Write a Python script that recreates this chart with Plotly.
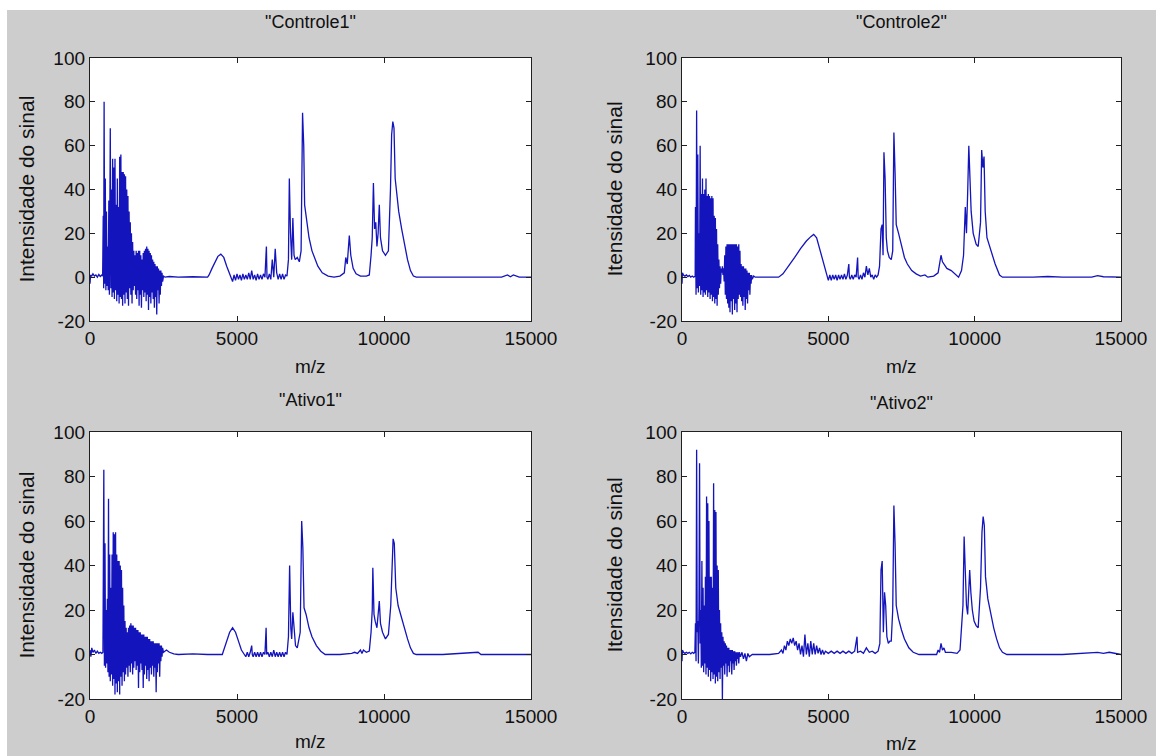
import plotly.graph_objects as go

# ---------------- data (m/z, intensity) ----------------
controle1 = [
    (0, -3), (20, 1), (60, 0.5), (100, 1.5), (150, 0.5), (200, 1), (250, 0), (300, 1.2), (350, 0.3), (400, 1), (430, 0.5),
    (450, 28), (465, -5), (480, 80), (500, -3), (520, 45), (540, -6), (560, 30), (580, -4), (600, 14), (620, -6),
    (640, 35), (660, -8), (690, 68), (710, -5), (730, 40), (750, -9), (770, 54), (790, -7), (810, 50), (830, -10),
    (850, 54), (870, -6), (890, 33), (910, -11), (930, 45), (950, -8), (970, 32), (990, -12), (1010, 55), (1030, -9),
    (1050, 56), (1070, -10), (1090, 48), (1110, -13), (1130, 48), (1150, -8), (1170, 47), (1190, -12), (1210, 46),
    (1230, -7), (1250, 40), (1270, -10), (1290, 37), (1310, -13), (1330, 30), (1350, -5), (1370, 25), (1390, -8),
    (1410, 20), (1430, -12), (1450, 16), (1470, -6), (1490, 12), (1510, -4), (1530, 10), (1550, -8), (1570, 12),
    (1590, -10), (1610, 11), (1630, -6), (1650, 12), (1670, -13), (1690, 12), (1710, -8), (1730, 10), (1750, -14),
    (1770, 8), (1790, -6), (1810, 11), (1830, -9), (1850, 12), (1870, -7), (1890, 13), (1910, -11), (1930, 14),
    (1950, -8), (1970, 13), (1990, -15), (2010, 12), (2030, -9), (2050, 11), (2070, -12), (2090, 10), (2110, -7),
    (2130, 8), (2150, -10), (2170, 7), (2190, -14), (2210, 6), (2230, -9), (2250, 5), (2270, -17), (2290, 5),
    (2310, -6), (2330, 4), (2350, -12), (2370, 3), (2390, -8), (2410, 3), (2430, -4), (2450, 2), (2470, -2), (2500, 0.5),
    (2550, 0), (2700, 0.3), (3000, 0), (3500, 0.2), (4000, 0), (4050, 1), (4150, 4), (4250, 7), (4350, 9.5),
    (4450, 10.5), (4550, 9), (4650, 5), (4750, 1.5), (4800, -0.5), (4850, -2),
    (4900, 1), (4950, -1.5), (5000, 1.5), (5050, -1), (5100, 1), (5150, -1.5), (5200, 1.5), (5250, -1), (5300, 1),
    (5350, -1), (5400, 2), (5450, -1), (5500, 3), (5550, -1), (5600, 1), (5650, -1.5), (5700, 1.5), (5750, -1),
    (5800, 1), (5850, -1), (5900, 1.5), (5950, 0), (6000, 14), (6020, 0), (6050, -1), (6100, 1.5), (6150, -1),
    (6200, 8), (6250, 0), (6300, 13), (6350, 2), (6400, -1), (6450, 1.5), (6500, -1), (6550, 1.5), (6600, -1),
    (6650, 1), (6700, 0.5),
    (6750, 8), (6780, 45), (6820, 20), (6860, 8), (6900, 27), (6940, 10), (6980, 8), (7050, 9), (7120, 7),
    (7180, 12), (7230, 75), (7270, 60), (7300, 33), (7350, 28), (7450, 18), (7550, 12), (7650, 8), (7750, 5),
    (7900, 2), (8100, 0.5), (8300, 0), (8500, 0.5), (8650, 2), (8700, 9), (8750, 6), (8820, 19), (8870, 10),
    (8950, 4), (9050, 1.5), (9200, 0.5), (9400, 0.5), (9500, 1), (9560, 10), (9600, 18), (9640, 43), (9680, 22),
    (9720, 25), (9760, 14), (9800, 20), (9840, 33), (9880, 18), (9950, 12), (10050, 10), (10150, 12), (10220, 40),
    (10260, 65), (10300, 71), (10340, 68), (10380, 45), (10430, 38), (10500, 30), (10600, 22), (10700, 15),
    (10800, 8), (10900, 3), (11000, 0.5), (11100, 0), (12000, 0), (13000, 0.2), (14000, 0), (14200, 1),
    (14300, 0.2), (14400, 1), (14600, 0), (15000, 0),
]

controle2 = [
    (0, -3), (15, 2), (50, 1), (100, 0.5), (150, 1), (200, 0.3), (250, 0.8), (300, 0), (350, 0.5), (400, 0), (450, 0.5),
    (460, 32), (480, -8), (500, 76), (520, -5), (540, 56), (560, -7), (580, 20), (600, -4), (620, 60), (640, -8),
    (660, 38), (680, -6), (700, 45), (720, -9), (740, 38), (760, -7), (780, 40), (800, -8), (820, 45), (840, -6),
    (860, 37), (880, -9), (900, 38), (920, -7), (940, 37), (960, -10), (980, 36), (1000, -8), (1020, 37), (1040, -11),
    (1060, 36), (1080, -9), (1100, 28), (1120, -12), (1140, 27), (1160, -10), (1180, 22), (1200, -13), (1220, 15),
    (1240, -8), (1260, 8), (1280, -5), (1300, 5), (1320, -3), (1340, 4), (1360, 2), (1380, 5), (1400, 1), (1420, 4),
    (1440, -2), (1460, 10), (1480, -8), (1500, 14), (1520, -10), (1540, 15), (1560, -12), (1580, 15), (1600, -14),
    (1620, 15), (1640, -16), (1660, 15), (1680, -11), (1700, 15), (1720, -17), (1740, 15), (1760, -10), (1780, 15),
    (1800, -15), (1820, 15), (1840, -12), (1860, 15), (1880, -16), (1900, 14), (1920, -10), (1940, 15), (1960, -8),
    (1980, 12), (2000, -9), (2020, 6), (2040, -11), (2060, 5), (2080, -13), (2100, 5), (2120, -9), (2140, 4),
    (2160, -15), (2180, 4), (2200, -10), (2220, 3), (2240, -12), (2260, 2), (2280, -6), (2300, 2), (2320, -8),
    (2340, 1), (2360, -3), (2380, 1), (2400, -1), (2450, 0.5),
    (2500, 0), (2800, 0), (3300, 0), (3450, 1.5), (3650, 5), (3850, 9), (4050, 13), (4250, 16.5), (4400, 18.5),
    (4500, 19.5), (4600, 18), (4700, 13), (4800, 8), (4900, 3), (4950, 0), (5000, -1.5),
    (5050, 1), (5100, -1.5), (5150, 1), (5200, -1), (5250, 1), (5300, -1.5), (5350, 1), (5400, -1), (5450, 1),
    (5500, -1), (5550, 1.5), (5600, -1), (5650, 1), (5700, 6), (5720, 0), (5750, -1), (5800, 1), (5850, -1),
    (5900, 1), (5950, 0), (6000, 9), (6020, 0), (6050, -1), (6100, 1), (6150, -1), (6200, 2), (6250, 0), (6300, 5),
    (6350, 1), (6400, 4), (6450, 0), (6500, 1), (6550, -1), (6600, 1), (6650, 0), (6700, 1),
    (6750, 5), (6800, 22), (6840, 24), (6870, 10), (6900, 57), (6940, 45), (6980, 18), (7020, 12), (7080, 9),
    (7150, 8), (7200, 12), (7240, 66), (7280, 48), (7320, 24), (7400, 20), (7500, 14), (7600, 9), (7700, 6),
    (7850, 3), (8000, 1.5), (8150, 0.5), (8300, 1), (8400, 0), (8600, 0.5), (8750, 2), (8800, 6), (8850, 10),
    (8900, 7), (8950, 6), (9050, 4), (9200, 3), (9350, 1), (9450, 0), (9550, 3), (9620, 10), (9680, 32), (9720, 20),
    (9760, 38), (9800, 60), (9840, 45), (9880, 30), (9950, 20), (10050, 15), (10120, 14), (10200, 25), (10240, 58),
    (10280, 50), (10320, 55), (10360, 30), (10420, 18), (10550, 12), (10700, 6), (10850, 1), (10950, 0),
    (12000, 0), (12500, 0.3), (13000, 0), (14000, 0), (14200, 0.7), (14400, 0.2), (15000, 0),
]

ativo1 = [
    (0, 2), (30, -1), (60, 3), (100, 1), (150, 2), (200, 0.5), (250, 1.5), (300, 0.5), (350, 1), (400, 0.5), (440, 1),
    (450, 50), (470, 83), (490, -5), (510, 50), (530, -6), (550, 20), (570, -4), (590, 25), (610, -8), (630, 70),
    (650, -10), (670, 45), (690, -12), (710, 30), (730, -9), (750, 45), (770, -14), (790, 55), (810, -11), (830, 54),
    (850, -18), (870, 55), (890, -13), (910, 45), (930, -17), (950, 42), (970, -12), (990, 42), (1010, -18),
    (1030, 40), (1050, -10), (1070, 38), (1090, -14), (1110, 30), (1130, -8), (1150, 22), (1170, -12), (1190, 15),
    (1210, -9), (1230, 12), (1250, -6), (1270, 10), (1290, -10), (1310, 12), (1330, -5), (1350, 13), (1370, -8),
    (1390, 14), (1410, -4), (1430, 13), (1450, -9), (1470, 13), (1490, -6), (1510, 12), (1530, -3), (1550, 12),
    (1570, -7), (1590, 11), (1610, -5), (1630, 11), (1650, -15), (1670, 10), (1690, -8), (1710, 10), (1730, -4),
    (1750, 9), (1770, -7), (1790, 9), (1810, -15), (1830, 9), (1850, -9), (1870, 8), (1890, -5), (1910, 8),
    (1930, -11), (1950, 8), (1970, -7), (1990, 7), (2010, -12), (2030, 7), (2050, -6), (2070, 6), (2090, -9),
    (2110, 6), (2130, -5), (2150, 6), (2170, -10), (2190, 5), (2210, -6), (2230, 5), (2250, -17), (2270, 5),
    (2290, -8), (2310, 5), (2330, -4), (2350, 5), (2370, -10), (2390, 4), (2410, -3), (2430, 4), (2450, -1),
    (2470, 3), (2500, 1),
    (2600, 2), (2700, 1), (2850, 0.3), (3000, 0), (3500, 0.3), (4000, 0), (4500, 0), (4550, 2), (4650, 6),
    (4750, 10), (4850, 12), (4950, 10), (5050, 6), (5150, 2), (5250, 0), (5300, -1),
    (5350, 1), (5400, -1), (5450, 1), (5500, 4), (5520, 0), (5550, -1), (5600, 1), (5650, -1), (5700, 1),
    (5750, -1), (5800, 1), (5850, -1), (5900, 1), (5950, 0), (5990, 12), (6010, 0), (6050, 1), (6100, -1),
    (6150, 1), (6200, -1), (6250, 2), (6300, -1), (6350, 1), (6400, -1), (6450, 1), (6500, -1), (6550, 1),
    (6600, -1), (6650, 1), (6700, 0),
    (6750, 8), (6790, 40), (6830, 12), (6860, 7), (6900, 19), (6940, 10), (6990, 4), (7050, 3), (7100, 6),
    (7150, 10), (7200, 60), (7240, 48), (7280, 21), (7350, 18), (7450, 12), (7550, 8), (7700, 4), (7850, 1.5),
    (8000, 0), (8500, 0), (8900, 0.5), (9000, 1), (9100, 0.5), (9200, 2), (9250, 0.5), (9300, 2), (9400, 1),
    (9500, 1.5), (9560, 10), (9600, 20), (9620, 39), (9660, 18), (9700, 15), (9760, 12), (9800, 18), (9840, 24),
    (9880, 14), (9950, 10), (10050, 7), (10150, 9), (10230, 22), (10280, 45), (10310, 52), (10350, 50),
    (10400, 30), (10480, 22), (10600, 16), (10700, 11), (10800, 7), (10900, 3), (11000, 0.5), (11100, 0),
    (12000, 0), (13200, 1), (13300, 0), (15000, 0),
]

ativo2 = [
    (0, -3), (15, 2), (50, 1), (100, 0.5), (150, 1), (200, 0.5), (250, 1), (300, 0.3), (350, 1), (400, 0.5), (440, 1),
    (460, 14), (480, -3), (500, 92), (520, 10), (540, 15), (560, -4), (580, 22), (600, 86), (620, 5), (640, 20),
    (660, -6), (680, 42), (700, -5), (720, 30), (740, -8), (760, 22), (780, -4), (800, 35), (820, -9), (840, 71),
    (860, -6), (880, 68), (900, -10), (920, 60), (940, -7), (960, 35), (980, -12), (1000, 35), (1020, -8),
    (1040, 30), (1060, -11), (1080, 77), (1100, -9), (1120, 65), (1140, -13), (1160, 64), (1180, -10), (1200, 40),
    (1220, -12), (1240, 38), (1260, -8), (1280, 20), (1300, -11), (1320, 14), (1340, -6), (1360, 10), (1380, -20),
    (1400, 8), (1420, -5), (1440, 6), (1460, -9), (1480, 5), (1500, -4), (1520, 4), (1540, -10), (1560, 3),
    (1580, -5), (1600, 3), (1620, -8), (1640, 2), (1660, -3), (1680, 2), (1700, -9), (1720, 2), (1740, -4),
    (1760, 1.5), (1780, -7), (1800, 1.5), (1820, -3), (1840, 1), (1860, -5), (1880, 1), (1900, -2), (1920, 1),
    (1940, -4), (1960, 1), (2000, -1), (2050, 1), (2100, -2), (2150, 0.5), (2200, -3), (2250, 0.5), (2300, -1),
    (2400, 0),
    (2500, 0), (3000, 0), (3300, 0.5), (3400, 2), (3450, 0.5), (3500, 4), (3550, 2), (3600, 6), (3650, 4),
    (3700, 7), (3750, 5), (3800, 7.5), (3850, 4), (3900, 6), (3950, 2), (4000, 5), (4050, 0), (4100, 4),
    (4150, -1), (4200, 9), (4250, 0), (4300, 5), (4350, -1), (4400, 6), (4450, 0), (4500, 5), (4550, 0),
    (4600, 4), (4650, 0.5), (4700, 3), (4750, 0), (4800, 2),
    (4850, 0), (4900, 1.5), (5000, 0.5), (5100, 1.5), (5200, 0.5), (5300, 1.5), (5400, 0.5), (5500, 1.5),
    (5600, 0.5), (5700, 1.5), (5800, 0.5), (5900, 1.5), (5980, 8), (6000, 1), (6100, 1.5), (6200, 0.5),
    (6300, 3), (6400, 1), (6500, 1.5), (6600, 0.5), (6700, 1.5),
    (6760, 5), (6800, 38), (6840, 42), (6880, 10), (6920, 28), (6960, 22), (7000, 8), (7050, 5), (7100, 6),
    (7150, 6), (7200, 20), (7240, 67), (7280, 50), (7320, 22), (7400, 16), (7500, 11), (7600, 7), (7750, 3),
    (7900, 1), (8100, 0), (8700, 0), (8750, 2), (8800, 1), (8850, 5), (8900, 2), (8950, 3), (9000, 1),
    (9200, 1), (9400, 0.5), (9500, 2), (9550, 10), (9600, 22), (9640, 53), (9680, 34), (9720, 22), (9760, 18),
    (9800, 30), (9830, 38), (9870, 28), (9920, 20), (9980, 15), (10050, 13), (10120, 12), (10200, 30),
    (10250, 55), (10290, 62), (10330, 58), (10370, 35), (10450, 25), (10550, 18), (10650, 12), (10750, 7),
    (10850, 3), (10950, 1), (11100, 0), (13000, 0), (14200, 1), (14400, 0.5), (14600, 1), (15000, 0),
]

titles = ['"Controle1"', '"Controle2"', '"Ativo1"', '"Ativo2"']
ylabels = ["Intensidade do sinal", "Itensidade do sinal", "Intensidade do sinal", "Itensidade do sinal"]
xlabel = "m/z"
x_ticks = [0, 5000, 10000, 15000]
y_ticks = [-20, 0, 20, 40, 60, 80, 100]
spectra = [controle1, controle2, ativo1, ativo2]

# ---------------- layout (pixel geometry) ----------------
W, H = 1156, 756
FONT = "Arial, Liberation Sans, Helvetica, sans-serif"
TXT = "#101010"
LINE = "#1414bc"

# x-pixel span, y-pixel span (from top), title y, ylabel x, xlabel y
boxes = [
    ((90, 531), (58, 321), 22, 26, 366),
    ((682, 1121), (58, 321), 22, 614, 366),
    ((90, 531), (432, 699), 400, 26, 741),
    ((682, 1121), (432, 699), 403, 614, 743),
]

def fx(p):
    return p / W

def fy(p):
    return 1 - p / H

fig = go.Figure()
annotations = []
for i, (spec, box) in enumerate(zip(spectra, boxes)):
    (x0, x1), (y0, y1), ty, ylx, xly = box
    n = "" if i == 0 else str(i + 1)
    mz = [p[0] for p in spec]
    inten = [p[1] for p in spec]
    fig.add_trace(go.Scatter(x=mz, y=inten, mode="lines", xaxis="x" + n, yaxis="y" + n,
                             line=dict(color=LINE, width=1.3), showlegend=False, hoverinfo="skip"))
    axcommon = dict(showline=True, linecolor="#202020", linewidth=1.3, mirror="allticks",
                    ticks="inside", ticklen=5, tickcolor="#202020", showgrid=False, zeroline=False,
                    automargin=False,
                    tickfont=dict(family=FONT, size=19, color=TXT), fixedrange=True)
    fig.update_layout(**{
        "xaxis" + n: dict(domain=[fx(x0), fx(x1)], range=[0, 15000], tickvals=x_ticks,
                          ticktext=[str(v) for v in x_ticks], anchor="y" + n, **axcommon),
        "yaxis" + n: dict(domain=[fy(y1), fy(y0)], range=[-20, 100], tickvals=y_ticks,
                          ticktext=[str(v) for v in y_ticks], anchor="x" + n, **axcommon),
    })
    cx = (x0 + x1) / 2
    annotations.append(dict(text=titles[i], x=fx(cx), y=fy(ty), xref="paper", yref="paper",
                            showarrow=False, xanchor="center", yanchor="middle",
                            font=dict(family=FONT, size=18, color=TXT)))
    annotations.append(dict(text=xlabel, x=fx(cx), y=fy(xly), xref="paper", yref="paper",
                            showarrow=False, xanchor="center", yanchor="middle",
                            font=dict(family=FONT, size=19, color=TXT)))
    annotations.append(dict(text=ylabels[i], x=fx(ylx), y=fy((y0 + y1) / 2), xref="paper", yref="paper",
                            showarrow=False, xanchor="center", yanchor="middle", textangle=-90,
                            font=dict(family=FONT, size=21, color=TXT)))

shapes = [
    dict(type="rect", xref="paper", yref="paper", x0=0, x1=1, y0=fy(10), y1=1,
         fillcolor="white", line=dict(width=0), layer="above"),
    dict(type="rect", xref="paper", yref="paper", x0=0, x1=fx(7), y0=0, y1=1,
         fillcolor="white", line=dict(width=0), layer="above"),
]

fig.update_layout(width=W, height=H, margin=dict(l=0, r=0, t=0, b=0, pad=0),
                  paper_bgcolor="#cdcdcd", plot_bgcolor="white",
                  annotations=annotations, shapes=shapes, showlegend=False)

fig.write_html("out.html", config={"displayModeBar": False},
               post_script="document.body.style.margin='0';document.body.style.overflow='hidden';")
